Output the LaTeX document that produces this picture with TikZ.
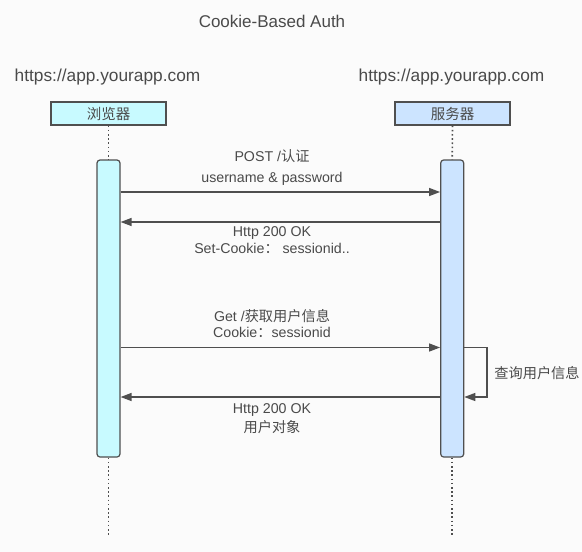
\documentclass[tikz,border=0pt]{standalone}
\usepackage{fontspec}
\setmainfont{Liberation Sans}
\newfontfamily\cjk{Noto Sans CJK SC}
\usetikzlibrary{arrows.meta}
\definecolor{bgc}{HTML}{FBFBFB}
\definecolor{txt}{HTML}{4A4A4A}
\definecolor{edge}{HTML}{4F4F4F}
\definecolor{cyanfill}{HTML}{C8FAFF}
\definecolor{bluefill}{HTML}{CCE4FF}
\tikzset{
  titletext/.style={text=txt, font=\fontsize{17}{20}\selectfont, inner sep=0pt},
  urltext/.style={text=txt, font=\fontsize{17.3}{20}\selectfont, inner sep=0pt},
  msgtext/.style={text=txt, font=\fontsize{14.2}{17}\selectfont, inner sep=0pt},
  headbox/.style={draw=edge, line width=1.2pt, minimum width=115pt, minimum height=23pt,
    inner sep=0pt, text=txt, font=\cjk\fontsize{14.5}{17}\selectfont},
  barbox/.style={draw=edge, line width=1.2pt, rounded corners=3pt, minimum width=23pt,
    minimum height=297pt, inner sep=0pt},
  lifeline/.style={draw=edge, line width=1.6pt, dash pattern=on 1.6pt off 2.6pt},
  msg/.style={draw=edge, line width=1.3pt, -{Triangle[length=11pt,width=8pt]}},
}
\begin{document}
\begin{tikzpicture}[x=1pt,y=-1pt]
\fill[bgc] (0,0) rectangle (582,552);
\useasboundingbox (0,0) rectangle (582,552);

\node[titletext] (title) at (272,21) {Cookie-Based Auth};
\node[urltext] (urlL) at (107.5,77) {https://app.yourapp.com};
\node[urltext] (urlR) at (451.5,77) {https://app.yourapp.com};

\node[headbox, fill=cyanfill] (hL) at (108.5,113.5) {浏览器};
\node[headbox, fill=bluefill] (hR) at (452.5,113.5) {服务器};

\node[barbox, fill=cyanfill] (bL) at (108.5,308.5) {};
\node[barbox, fill=bluefill] (bR) at (452.2,308.5) {};

\coordinate (endL) at (108.5,536);
\coordinate (endR) at (452.2,536);
\draw[lifeline] (hL.south) -- (bL.north);
\draw[lifeline] (hR.south) -- (bR.north);
\draw[lifeline] (bL.south) -- (endL);
\draw[lifeline] (bR.south) -- (endR);

\coordinate (m1) at (0,192);
\coordinate (m2) at (0,222);
\coordinate (m3) at (0,347.5);
\coordinate (m4) at (0,397);
\coordinate (loopx) at (487,0);

\draw[msg] (bL.east |- m1) -- (bR.west |- m1);
\draw[msg] (bR.west |- m2) -- (bL.east |- m2);
\draw[msg] (bL.east |- m3) -- (bR.west |- m3);
\draw[msg] (bR.west |- m4) -- (bL.east |- m4);
\draw[msg] (bR.east |- m3) -- (loopx |- m3) -- (loopx |- m4) -- (bR.east |- m4);

\node[msgtext] (l1a) at (272,156) {POST /{\cjk 认证}};
\node[msgtext] (l1b) at (272,179) {username \& password};
\node[msgtext] (l2a) at (272,233) {Http 200 OK};
\node[msgtext] (l2b) at (272,248) {Set-Cookie{\cjk ：} sessionid..};
\node[msgtext] (l3a) at (272,316) {Get /{\cjk 获取用户信息}};
\node[msgtext] (l3b) at (272,332) {Cookie{\cjk ：}sessionid};
\node[msgtext] (l4a) at (272,410) {Http 200 OK};
\node[msgtext] (l4b) at (272,427) {\cjk 用户对象};
\node[msgtext] (selfl) at (537,373) {\cjk 查询用户信息};
\end{tikzpicture}
\end{document}
